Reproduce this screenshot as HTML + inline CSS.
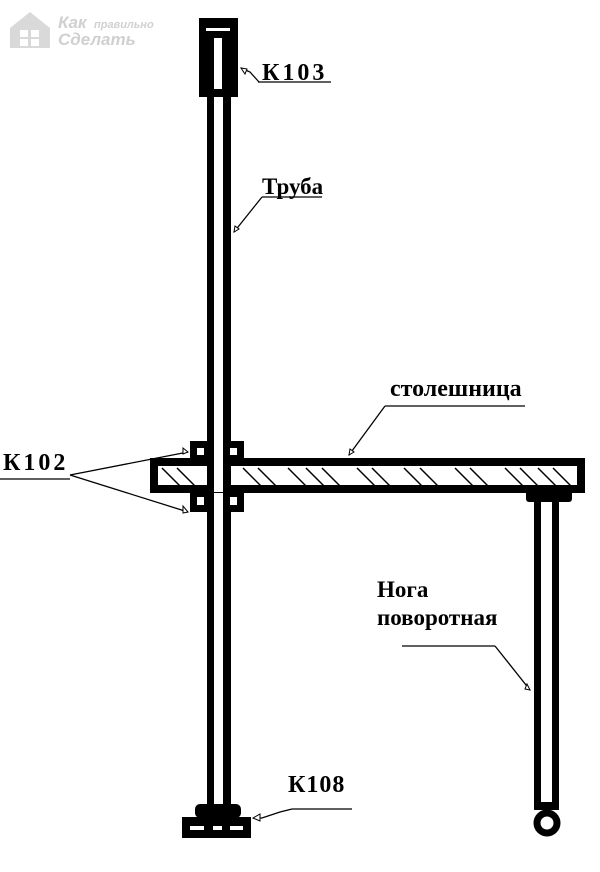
<!DOCTYPE html>
<html><head><meta charset="utf-8"><style>
html,body{margin:0;padding:0;background:#fff;width:600px;height:872px;overflow:hidden}
svg text{font-family:"Liberation Serif",serif;font-weight:bold;fill:#000}
</style></head><body>
<svg width="600" height="872" viewBox="0 0 600 872" xmlns="http://www.w3.org/2000/svg">
<rect x="0" y="0" width="600" height="872" fill="#fff"/>
<!-- logo -->
<g opacity="0.55">
<path d="M10 28 L30 12 L50 28 L50 48 L10 48 Z" fill="#bbb"/>
<rect x="20" y="30" width="8" height="7" fill="#fff"/><rect x="31" y="30" width="8" height="7" fill="#fff"/>
<rect x="20" y="39" width="8" height="7" fill="#fff"/><rect x="31" y="39" width="8" height="7" fill="#fff"/>
<text x="58" y="28" style="font-family:'Liberation Sans',sans-serif;font-style:italic;fill:#aaa;font-size:17px">Как</text>
<text x="94" y="28" style="font-family:'Liberation Sans',sans-serif;font-style:italic;fill:#aaa;font-size:11px">правильно</text>
<text x="58" y="45" style="font-family:'Liberation Sans',sans-serif;font-style:italic;fill:#aaa;font-size:17px">Сделать</text>
</g>
<!-- main pipe -->
<rect x="207" y="90" width="7" height="720" fill="#000"/>
<rect x="223" y="90" width="8" height="720" fill="#000"/>
<!-- top block -->
<rect x="199" y="18" width="39" height="79" fill="#000"/>
<rect x="214" y="38" width="8" height="51" fill="#fff"/>
<rect x="206" y="28" width="24" height="3" fill="#fff"/>
<!-- tabletop -->
<rect x="154" y="462" width="427" height="27" fill="#fff" stroke="#000" stroke-width="8"/>
<g stroke="#000" stroke-width="1.5">
<line x1="162" y1="468" x2="180" y2="486"/><line x1="177" y1="468" x2="195" y2="486"/>
<line x1="243" y1="468" x2="261" y2="486"/><line x1="258" y1="468" x2="276" y2="486"/>
<line x1="288" y1="468" x2="306" y2="486"/><line x1="306" y1="468" x2="324" y2="486"/>
<line x1="322" y1="468" x2="340" y2="486"/><line x1="357" y1="468" x2="375" y2="486"/>
<line x1="372" y1="468" x2="390" y2="486"/><line x1="404" y1="468" x2="422" y2="486"/>
<line x1="420" y1="468" x2="438" y2="486"/><line x1="455" y1="468" x2="473" y2="486"/>
<line x1="470" y1="468" x2="488" y2="486"/><line x1="505" y1="468" x2="523" y2="486"/>
<line x1="520" y1="468" x2="538" y2="486"/><line x1="538" y1="468" x2="556" y2="486"/>
<line x1="553" y1="468" x2="571" y2="486"/>
</g>
<rect x="214" y="458" width="9" height="34" fill="#fff"/>
<rect x="207" y="456" width="7" height="40" fill="#000"/>
<rect x="223" y="456" width="8" height="40" fill="#000"/>
<!-- clamps -->
<g fill="#000">
<rect x="190" y="441" width="21" height="21"/><rect x="224" y="441" width="20" height="21"/>
<rect x="190" y="490" width="21" height="22"/><rect x="224" y="490" width="20" height="22"/>
</g>
<g fill="#fff">
<rect x="197" y="448" width="7" height="7"/><rect x="230" y="448" width="7" height="7"/>
<rect x="197" y="497" width="7" height="8"/><rect x="230" y="497" width="7" height="8"/>
</g>
<!-- right leg -->
<rect x="526" y="490" width="46" height="12" rx="3" fill="#000"/>
<rect x="534" y="500" width="7" height="310" fill="#000"/>
<rect x="552" y="500" width="7" height="310" fill="#000"/>
<rect x="534" y="802" width="25" height="8" fill="#000"/>
<circle cx="547" cy="823" r="10" fill="#fff" stroke="#000" stroke-width="7"/>
<!-- bottom foot -->
<rect x="195" y="804" width="46" height="14" rx="5" fill="#000"/>
<rect x="182" y="817" width="69" height="21" fill="#000"/>
<g fill="#fff"><rect x="190" y="826" width="14" height="4"/><rect x="213" y="826" width="9" height="4"/><rect x="230" y="826" width="13" height="4"/></g>
<!-- leaders -->
<g stroke="#000" stroke-width="1.3" fill="none">
<line x1="258" y1="82" x2="331" y2="82"/><polyline points="259,82 250,72 241,68"/>
<line x1="262" y1="197" x2="322" y2="197"/><line x1="262" y1="197" x2="234" y2="232"/>
<line x1="385" y1="406" x2="525" y2="406"/><line x1="385" y1="406" x2="349" y2="455"/>
<line x1="0" y1="479" x2="70" y2="479"/><line x1="70" y1="475" x2="188" y2="452"/><line x1="70" y1="475" x2="188" y2="512"/>
<line x1="402" y1="646" x2="495" y2="646"/><line x1="495" y1="646" x2="530" y2="690"/>
<line x1="292" y1="809" x2="352" y2="809"/><polyline points="292,809 280,812 262,818 253,818"/>
</g>
<g fill="#fff" stroke="#000" stroke-width="1">
<path d="M241 68 l6 1 l-2 5 z"/><path d="M234 232 l1 -6 l4 3 z"/><path d="M349 455 l1 -6 l4 3 z"/>
<path d="M188 452 l-5 -4 l0 6 z"/><path d="M188 512 l-5 -6 l0 7 z"/><path d="M530 690 l-5 -1 l2 -5 z"/>
<path d="M253 818 l7 -4 l0 7 z"/>
</g>
<!-- labels -->
<text x="262" y="80" font-size="24" letter-spacing="3">К103</text>
<text x="262" y="194" font-size="23">Труба</text>
<text x="390" y="396" font-size="24">столешница</text>
<text x="3" y="470" font-size="24" letter-spacing="3">К102</text>
<text x="377" y="597" font-size="23">Нога</text>
<text x="377" y="625" font-size="23">поворотная</text>
<text x="288" y="792" font-size="24" letter-spacing="1">К108</text>
</svg>
</body></html>
